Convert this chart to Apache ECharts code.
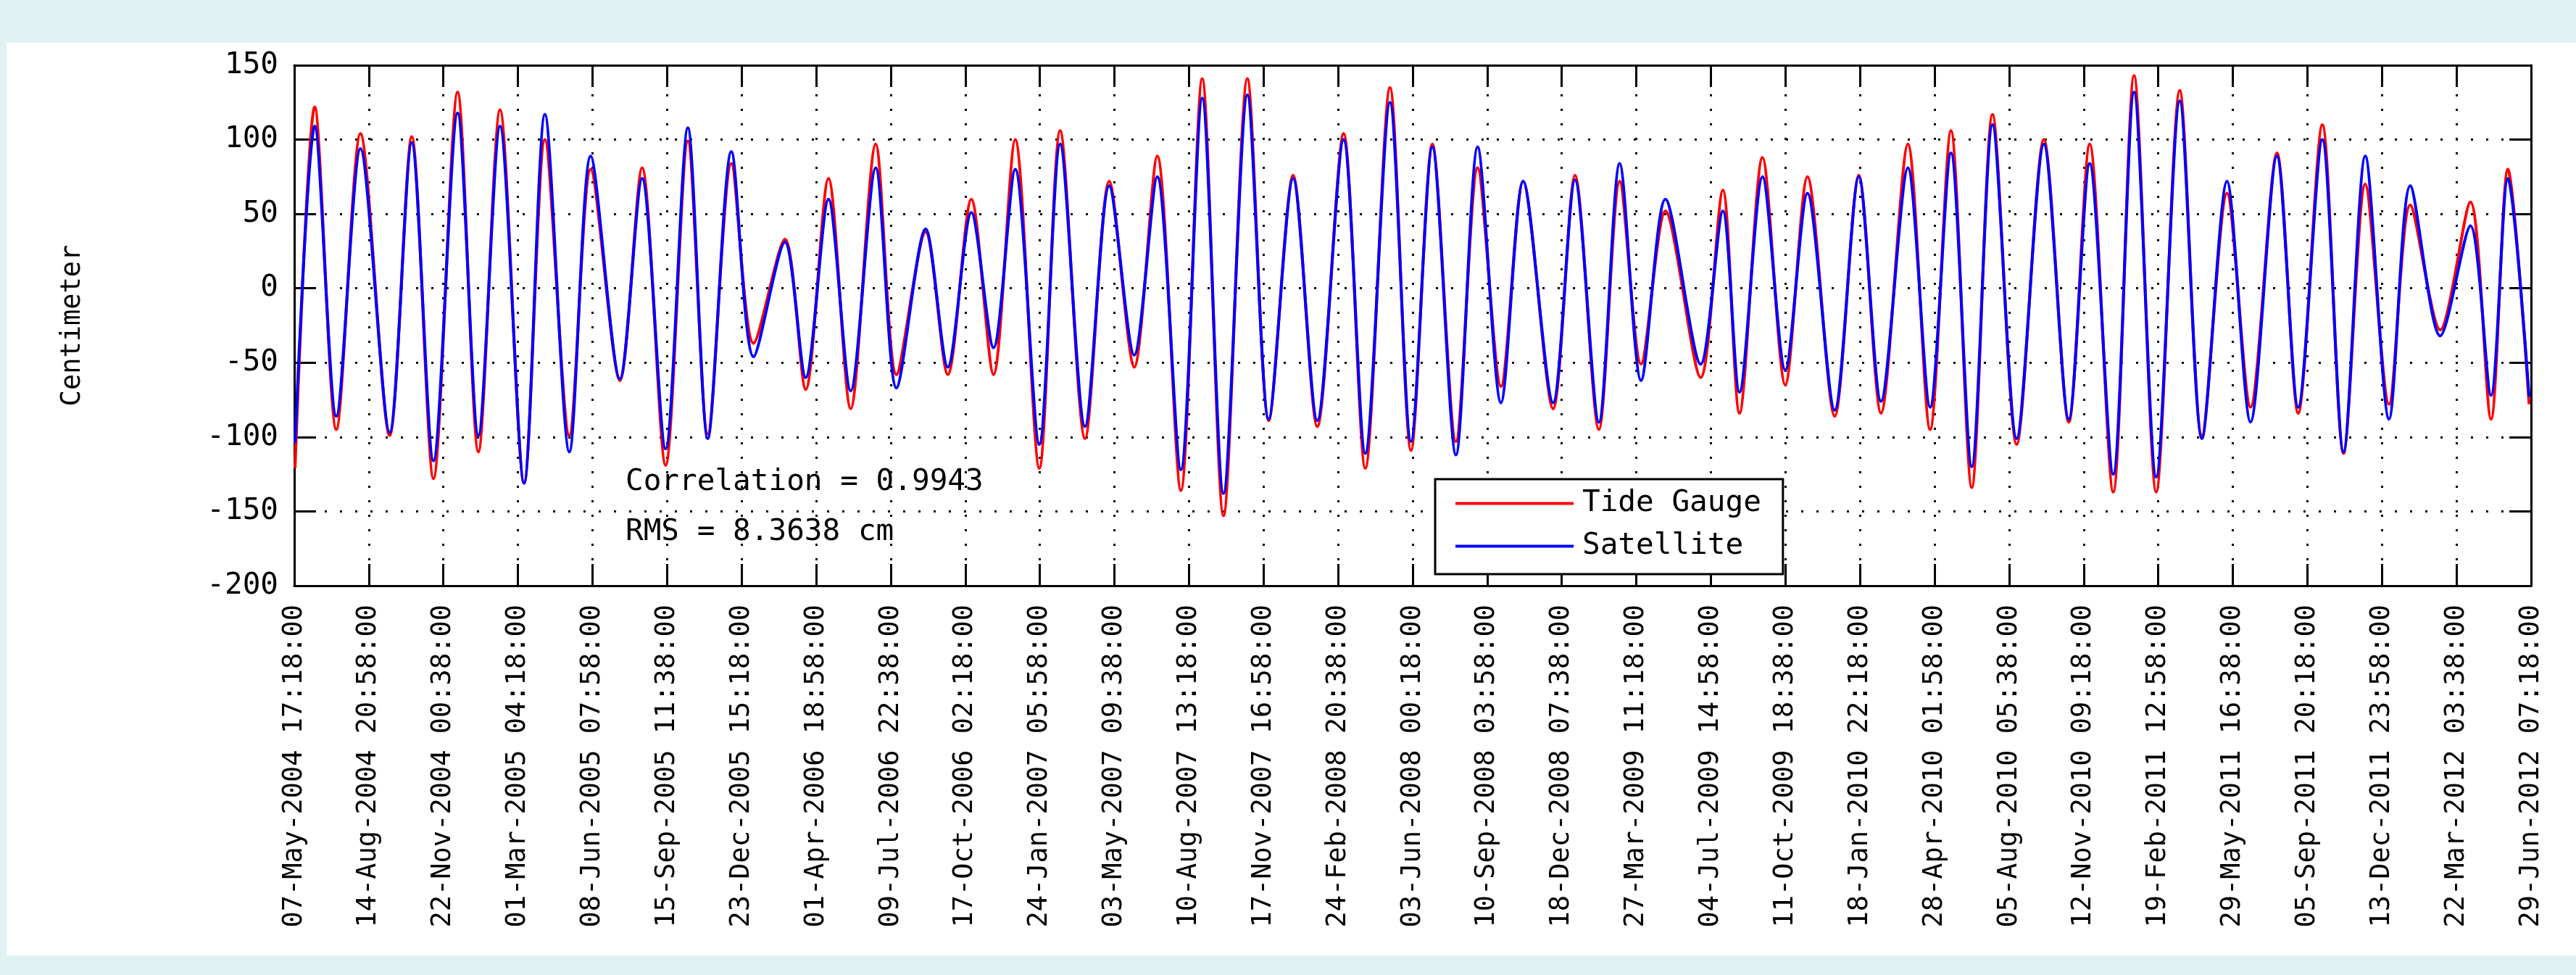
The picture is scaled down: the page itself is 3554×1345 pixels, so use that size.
<!DOCTYPE html>
<html>
<head>
<meta charset="utf-8">
<script src="https://cdn.jsdelivr.net/npm/echarts@6/dist/echarts.min.js"></script>
<style>
html, body { margin: 0; padding: 0; width: 3554px; height: 1345px; overflow: hidden; background: #e0f1f1; }
#main { position: absolute; left: 9px; top: 59px; width: 3545px; height: 1259px; background: #fff; }
</style>
</head>
<body>
<div id="main"></div>
<script>
var xLabels = [
    '07-May-2004 17:18:00', '14-Aug-2004 20:58:00', '22-Nov-2004 00:38:00', '01-Mar-2005 04:18:00',
    '08-Jun-2005 07:58:00', '15-Sep-2005 11:38:00', '23-Dec-2005 15:18:00', '01-Apr-2006 18:58:00',
    '09-Jul-2006 22:38:00', '17-Oct-2006 02:18:00', '24-Jan-2007 05:58:00', '03-May-2007 09:38:00',
    '10-Aug-2007 13:18:00', '17-Nov-2007 16:58:00', '24-Feb-2008 20:38:00', '03-Jun-2008 00:18:00',
    '10-Sep-2008 03:58:00', '18-Dec-2008 07:38:00', '27-Mar-2009 11:18:00', '04-Jul-2009 14:58:00',
    '11-Oct-2009 18:38:00', '18-Jan-2010 22:18:00', '28-Apr-2010 01:58:00', '05-Aug-2010 05:38:00',
    '12-Nov-2010 09:18:00', '19-Feb-2011 12:58:00', '29-May-2011 16:38:00', '05-Sep-2011 20:18:00',
    '13-Dec-2011 23:58:00', '22-Mar-2012 03:38:00', '29-Jun-2012 07:18:00'
];
var yTicks = [-200, 150, 50]; // min, max, step (cm)

// days since 07-May-2004 17:18 (read at each crest / trough)
var days = [
    1, 27.2, 55.9, 88.0, 126.8, 156.2, 185.1, 217.2, 244.8, 273.6,
    305.6, 333.3, 365.8, 394.2, 433.0, 462.5, 493.8, 523.4, 549.9, 581.3,
    610.8, 652.5, 680.1, 710.4, 739.9, 773.2, 800.8, 839.6, 869.1, 900.4,
    929.9, 958.7, 990.8, 1018.5, 1051.6, 1083.8, 1117.0, 1147.6, 1179.0, 1207.4,
    1235.7, 1267.5, 1295.9, 1328.3, 1360.4, 1395.4, 1424.3, 1457.1, 1485.1, 1513.5,
    1544.8, 1573.7, 1604.7, 1634.2, 1674.0, 1703.2, 1734.9, 1762.6, 1791.0, 1823.4,
    1870.3, 1899.8, 1921.9, 1952.5, 1982.8, 2012.3, 2048.5, 2080.6, 2110.1, 2145.9,
    2175.4, 2203.1, 2230.8, 2258.4, 2290.5, 2326.7, 2359.8, 2387.6, 2418.9, 2446.6,
    2476.1, 2507.4, 2536.9, 2570.2, 2601.5, 2636.6, 2664.9, 2697.0, 2725.2, 2754.1,
    2785.7, 2813.9, 2853.8, 2893.9, 2921.3, 2943.7, 2972.0
];
var tideGauge = [
    -121, 122, -95, 104, -99, 102, -128, 132, -110, 120,
    -131, 100, -99, 80, -62, 81, -119, 99, -98, 84,
    -37, 33, -68, 74, -81, 97, -58, 38, -58, 60,
    -58, 100, -121, 106, -101, 72, -53, 89, -136, 141,
    -153, 141, -89, 76, -93, 104, -121, 135, -109, 97,
    -103, 81, -66, 72, -81, 76, -95, 72, -51, 52,
    -60, 66, -84, 88, -65, 75, -86, 76, -84, 97,
    -95, 106, -134, 117, -105, 100, -90, 97, -137, 143,
    -137, 133, -99, 64, -80, 91, -84, 110, -111, 70,
    -78, 56, -28, 58, -88, 80, -78
];
var satellite = [
    -104, 109, -86, 94, -97, 98, -116, 118, -99, 109,
    -131, 117, -110, 89, -61, 74, -108, 108, -101, 92,
    -46, 31, -60, 60, -69, 81, -67, 40, -53, 51,
    -40, 80, -105, 97, -93, 69, -45, 75, -122, 128,
    -138, 130, -88, 74, -89, 100, -111, 125, -103, 95,
    -112, 95, -77, 72, -77, 73, -90, 84, -62, 60,
    -51, 52, -70, 75, -55, 64, -82, 75, -76, 81,
    -80, 91, -120, 110, -101, 97, -88, 84, -125, 132,
    -127, 126, -101, 72, -90, 89, -80, 100, -110, 89,
    -88, 69, -32, 42, -72, 74, -73
];

var period = 99.15277778; // 10 repeat cycles between labels
var font = '"DejaVu Sans Mono", "Liberation Mono", monospace';

var chartDom = document.getElementById('main');
var myChart = echarts.init(chartDom);

function pairs(vals) {
    return days.map(function (d, i) { return [d, vals[i]]; });
}

var dotted = { color: '#000', width: 3, type: [3, 17] };

var option = {
    animation: false,
    backgroundColor: '#fff',
    grid: {
        left: 397, top: 31, width: 3086, height: 718,
        containLabel: false,
        outerBoundsMode: 'none'
    },
    legend: {
        data: ['Tide Gauge', 'Satellite'],
        orient: 'vertical',
        left: 1971,
        top: 602,
        padding: [13, 30, 18, 28],
        icon: 'rect',
        itemWidth: 163,
        itemHeight: 4,
        itemGap: 18,
        selectedMode: false,
        backgroundColor: '#fff',
        borderColor: '#000',
        borderWidth: 3,
        borderRadius: 0,
        textStyle: { fontFamily: font, fontSize: 41, color: '#000', lineHeight: 41, padding: [0, 0, 0, 7] }
    },
    xAxis: [{
        type: 'value',
        min: 0,
        max: 30 * period,
        interval: period,
        position: 'bottom',
        axisLine: { show: true, onZero: false, lineStyle: { color: '#000', width: 3 } },
        axisTick: { show: true, inside: true, length: 30, lineStyle: { color: '#000', width: 3 } },
        axisLabel: {
            show: true,
            rotate: 90,
            margin: 26,
            fontFamily: font,
            fontSize: 37,
            color: '#000',
            hideOverlap: false,
            showMinLabel: true,
            showMaxLabel: true,
            formatter: function (v) { return xLabels[Math.round(v / period)] || ''; }
        },
        splitLine: { show: true, lineStyle: dotted }
    }, {
        type: 'value',
        min: 0,
        max: 30 * period,
        interval: period,
        position: 'top',
        axisLine: { show: true, onZero: false, lineStyle: { color: '#000', width: 3 } },
        axisTick: { show: true, inside: true, length: 30, lineStyle: { color: '#000', width: 3 } },
        axisLabel: { show: false },
        splitLine: { show: false }
    }],
    yAxis: [{
        type: 'value',
        min: yTicks[0],
        max: yTicks[1],
        interval: yTicks[2],
        position: 'left',
        name: 'Centimeter',
        nameLocation: 'middle',
        nameGap: 287,
        nameTextStyle: { fontFamily: font, fontSize: 37, color: '#000' },
        axisLine: { show: true, onZero: false, lineStyle: { color: '#000', width: 3 } },
        axisTick: { show: true, inside: true, length: 30, lineStyle: { color: '#000', width: 3 } },
        axisLabel: { show: true, margin: 22, fontFamily: font, fontSize: 41, color: '#000', showMinLabel: true, showMaxLabel: true },
        splitLine: { show: true, lineStyle: { color: '#000', width: 3, type: [3, 18] } }
    }, {
        type: 'value',
        min: yTicks[0],
        max: yTicks[1],
        interval: yTicks[2],
        position: 'right',
        axisLine: { show: true, onZero: false, lineStyle: { color: '#000', width: 3 } },
        axisTick: { show: true, inside: true, length: 30, lineStyle: { color: '#000', width: 3 } },
        axisLabel: { show: false },
        splitLine: { show: false }
    }],
    graphic: [
        { type: 'text', x: 854, y: 606, z: 10,
          style: { text: 'Correlation = 0.9943', font: '41px ' + font, fill: '#000', verticalAlign: 'middle' } },
        { type: 'text', x: 854, y: 675, z: 10,
          style: { text: 'RMS = 8.3638 cm', font: '41px ' + font, fill: '#000', verticalAlign: 'middle' } }
    ],
    series: [{
        name: 'Tide Gauge',
        type: 'line',
        xAxisIndex: 0,
        yAxisIndex: 0,
        symbol: 'none',
        smooth: 0.3,
        lineStyle: { color: '#ff0000', width: 4 },
        itemStyle: { color: '#ff0000' },
        data: pairs(tideGauge)
    }, {
        name: 'Satellite',
        type: 'line',
        xAxisIndex: 0,
        yAxisIndex: 0,
        symbol: 'none',
        smooth: 0.3,
        lineStyle: { color: '#0000ff', width: 4 },
        itemStyle: { color: '#0000ff' },
        data: pairs(satellite)
    }]
};

option && myChart.setOption(option);
</script>
</body>
</html>
